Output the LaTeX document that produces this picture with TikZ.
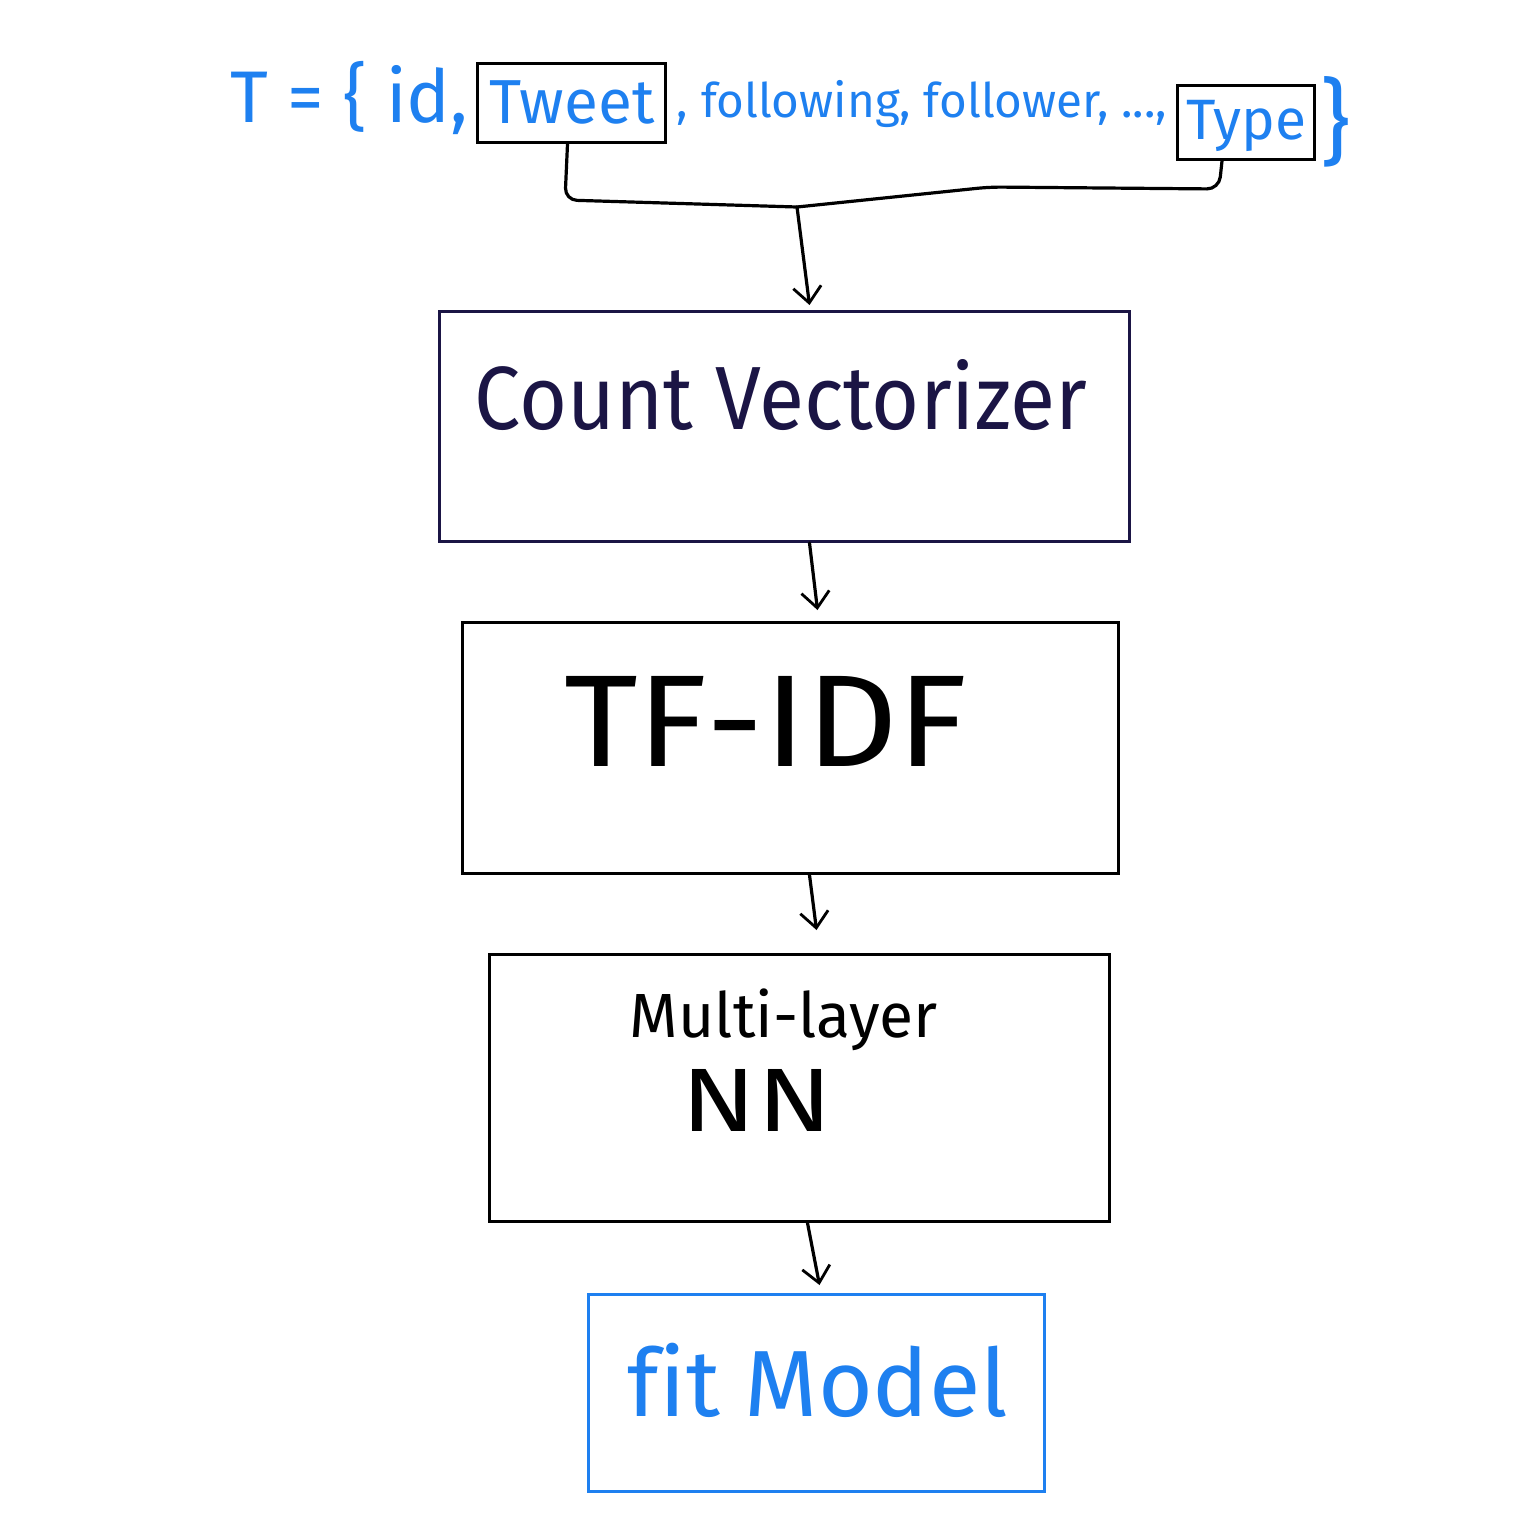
\documentclass[tikz,border=0pt]{standalone}
\usepackage{fontspec}
\usepackage{graphicx}
\setmainfont{Fira Sans}
\usetikzlibrary{arrows.meta}
\definecolor{inkblue}{HTML}{1E80F0}
\definecolor{inknavy}{HTML}{1B1545}
\begin{document}
\begin{tikzpicture}[x=1pt,y=-1pt,
  box/.style={draw, line width=3pt, inner sep=0pt, anchor=north west},
  conn/.style={line width=3.2pt, line cap=round, line join=round},
  arr/.style={conn, -{Straight Barb[length=16pt,width=28pt,line width=2.8pt]}},
  lbl/.style={inner sep=0pt, font=\fontsize{40}{44}\selectfont}]
\useasboundingbox (0,0) rectangle (1536,1540);
\fill[white] (0,0) rectangle (1536,1540);
% top set
\node[lbl, text=inkblue, anchor=west] (p1) at (230,98) {\resizebox{238pt}{!}{T = \{ id,}};
\node[box, minimum width=188pt, minimum height=79pt] (tweet) at (476,62) {};
\node[lbl, text=inkblue] (tw) at (572,102) {\resizebox{165pt}{!}{Tweet}};
\node[lbl, text=inkblue] (p2) at (922,104) {\resizebox{490pt}{!}{, following, follower, ...,}};
\node[box, minimum width=137pt, minimum height=74pt] (type) at (1176,84) {};
\node[lbl, text=inkblue] (ty) at (1246,126) {\resizebox{120pt}{!}{Type}};
\node[lbl, text=inkblue] (p3) at (1336,122) {\resizebox{!}{78pt}{\}}};
% boxes
\node[box, draw=inknavy, minimum width=690pt, minimum height=230pt] (cv) at (438,310) {};
\node[inner sep=0pt, text=inknavy] (cvt) at (781,395) {\resizebox{612pt}{70pt}{Count Vectorizer}};
\node[box, minimum width=656pt, minimum height=251pt] (tf) at (461,621) {};
\node[inner sep=0pt] (tft) at (766,721) {\resizebox{403pt}{90pt}{TF-IDF}};
\node[box, minimum width=620pt, minimum height=267pt] (mlp) at (488,953) {};
\node[inner sep=0pt] (mlpt) at (784,1020) {\resizebox{308pt}{!}{Multi-layer}};
\node[inner sep=0pt] (nnt) at (757,1100) {\resizebox{150pt}{62pt}{NN}};
\node[box, draw=inkblue, minimum width=456pt, minimum height=197pt] (fit) at (587,1293) {};
\node[inner sep=0pt, text=inkblue] (fitt) at (818,1380) {\resizebox{380pt}{!}{f\kern0pt it Model}};
% connectors
\coordinate (j) at (797,207);
\draw[conn, rounded corners=12pt] ([xshift=-4pt]tweet.south) -- (565,200) -- (j);
\draw[conn, rounded corners=12pt] ([xshift=-24pt]type.south) -- (1219,189) -- (990,187) -- (j);
\draw[arr] (j) -- ([xshift=25pt,yshift=5pt]cv.north);
\draw[arr] ([xshift=25pt]cv.south) -- ([xshift=27pt,yshift=11pt]tf.north);
\draw[arr] ([xshift=19pt]tf.south) -- ([xshift=17pt,yshift=23pt]mlp.north);
\draw[arr] ([xshift=8pt]mlp.south) -- ([xshift=3pt,yshift=8pt]fit.north);
\end{tikzpicture}
\end{document}
